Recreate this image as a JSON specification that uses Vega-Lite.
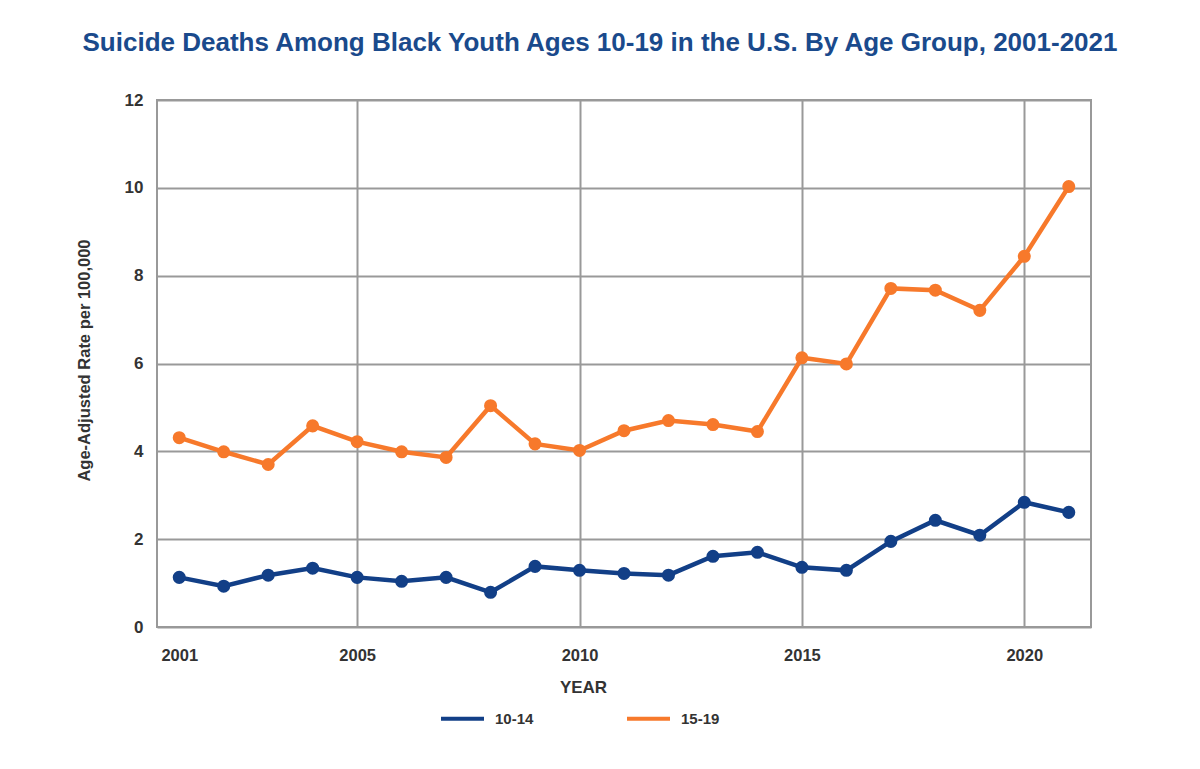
{
  "$schema": "https://vega.github.io/schema/vega-lite/v6.json",
  "width": 934,
  "height": 527,
  "autosize": {"type": "none"},
  "padding": {"left": 157, "top": 100, "right": 109, "bottom": 142},
  "background": "white",
  "config": {
    "font": "Liberation Sans",
    "view": {"stroke": "#999999", "strokeWidth": 2}
  },
  "title": {
    "text": "Suicide Deaths Among Black Youth Ages 10-19 in the U.S. By Age Group, 2001-2021",
    "frame": "group",
    "anchor": "middle",
    "dx": -24,
    "offset": 35,
    "fontSize": 26,
    "fontWeight": "bold",
    "color": "#1a4a8c",
    "font": "Liberation Sans"
  },
  "data": {
    "values": [
      {"year": 2001, "group": "10-14", "rate": 1.13},
      {"year": 2002, "group": "10-14", "rate": 0.93},
      {"year": 2003, "group": "10-14", "rate": 1.18},
      {"year": 2004, "group": "10-14", "rate": 1.34},
      {"year": 2005, "group": "10-14", "rate": 1.13},
      {"year": 2006, "group": "10-14", "rate": 1.04},
      {"year": 2007, "group": "10-14", "rate": 1.13},
      {"year": 2008, "group": "10-14", "rate": 0.79},
      {"year": 2009, "group": "10-14", "rate": 1.38},
      {"year": 2010, "group": "10-14", "rate": 1.29},
      {"year": 2011, "group": "10-14", "rate": 1.22},
      {"year": 2012, "group": "10-14", "rate": 1.18},
      {"year": 2013, "group": "10-14", "rate": 1.61},
      {"year": 2014, "group": "10-14", "rate": 1.70},
      {"year": 2015, "group": "10-14", "rate": 1.36},
      {"year": 2016, "group": "10-14", "rate": 1.29},
      {"year": 2017, "group": "10-14", "rate": 1.95},
      {"year": 2018, "group": "10-14", "rate": 2.43},
      {"year": 2019, "group": "10-14", "rate": 2.09},
      {"year": 2020, "group": "10-14", "rate": 2.84},
      {"year": 2021, "group": "10-14", "rate": 2.61},
      {"year": 2001, "group": "15-19", "rate": 4.31},
      {"year": 2002, "group": "15-19", "rate": 3.99},
      {"year": 2003, "group": "15-19", "rate": 3.70},
      {"year": 2004, "group": "15-19", "rate": 4.58},
      {"year": 2005, "group": "15-19", "rate": 4.22},
      {"year": 2006, "group": "15-19", "rate": 3.99},
      {"year": 2007, "group": "15-19", "rate": 3.86},
      {"year": 2008, "group": "15-19", "rate": 5.04},
      {"year": 2009, "group": "15-19", "rate": 4.17},
      {"year": 2010, "group": "15-19", "rate": 4.02},
      {"year": 2011, "group": "15-19", "rate": 4.47},
      {"year": 2012, "group": "15-19", "rate": 4.70},
      {"year": 2013, "group": "15-19", "rate": 4.61},
      {"year": 2014, "group": "15-19", "rate": 4.45},
      {"year": 2015, "group": "15-19", "rate": 6.13},
      {"year": 2016, "group": "15-19", "rate": 5.99},
      {"year": 2017, "group": "15-19", "rate": 7.71},
      {"year": 2018, "group": "15-19", "rate": 7.67},
      {"year": 2019, "group": "15-19", "rate": 7.21},
      {"year": 2020, "group": "15-19", "rate": 8.44},
      {"year": 2021, "group": "15-19", "rate": 10.03}
    ]
  },
  "encoding": {
    "x": {
      "field": "year",
      "type": "quantitative",
      "scale": {"domain": [2000.5, 2021.5], "nice": false, "zero": false},
      "axis": {
        "title": "YEAR",
        "values": [2001, 2005, 2010, 2015, 2020],
        "format": "d",
        "domain": false,
        "ticks": false,
        "grid": true,
        "gridColor": "#999999",
        "gridWidth": 2,
        "gridOpacity": {"condition": {"test": "datum.value == 2001", "value": 0}, "value": 1},
        "labelFontSize": 16.5,
        "labelFontWeight": "bold",
        "labelColor": "#333333",
        "labelPadding": 20,
        "titleFontSize": 17,
        "titleFontWeight": "bold",
        "titleColor": "#333333",
        "titleX": 426,
        "titleY": 52,
        "titleBaseline": "top",
        "titleAlign": "center"
      }
    },
    "y": {
      "field": "rate",
      "type": "quantitative",
      "scale": {"domain": [0, 12], "nice": false},
      "axis": {
        "title": "Age-Adjusted Rate per 100,000",
        "values": [0, 2, 4, 6, 8, 10, 12],
        "domain": false,
        "ticks": false,
        "grid": true,
        "gridColor": "#999999",
        "gridWidth": 2,
        "labelFontSize": 17,
        "labelFontWeight": "bold",
        "labelColor": "#333333",
        "labelPadding": 14,
        "titleFontSize": 16.5,
        "titleFontWeight": "bold",
        "titleColor": "#333333",
        "titleAngle": -90,
        "titleX": -73,
        "titleY": 260,
        "titleAlign": "center",
        "titleBaseline": "middle"
      }
    },
    "color": {
      "field": "group",
      "type": "nominal",
      "scale": {"domain": ["10-14", "15-19"], "range": ["#123f87", "#f7792b"]},
      "legend": {
        "title": null,
        "orient": "none",
        "legendX": 282,
        "legendY": 595,
        "direction": "horizontal",
        "symbolType": "stroke",
        "symbolStrokeWidth": 4,
        "symbolSize": 1849,
        "labelFontSize": 15,
        "labelFontWeight": "bold",
        "labelColor": "#333333",
        "labelOffset": 9,
        "columnPadding": 85
      }
    }
  },
  "layer": [
    {"mark": {"type": "line", "strokeWidth": 4.5}},
    {"mark": {"type": "point", "filled": true, "size": 170, "opacity": 1}}
  ]
}
